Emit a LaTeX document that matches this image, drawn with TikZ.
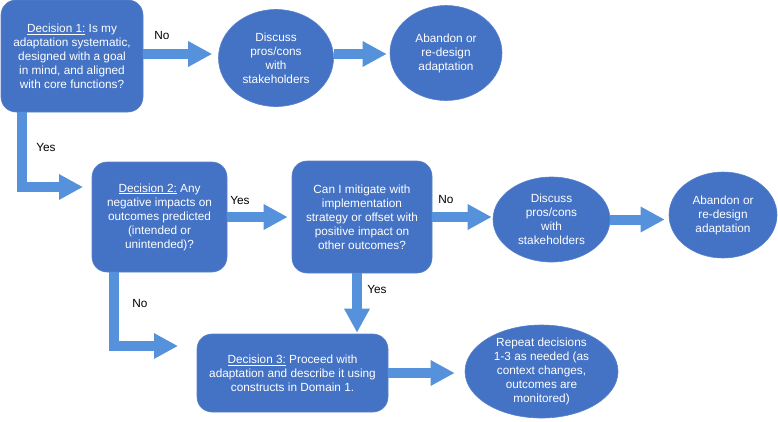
\documentclass[tikz,border=0pt]{standalone}
\usepackage{fontspec}
\setmainfont{Liberation Sans}
\usetikzlibrary{shapes.geometric,arrows.meta}
\definecolor{boxblue}{HTML}{4472C4}
\definecolor{edgeblue}{HTML}{5A82CA}
\definecolor{flowblue}{RGB}{85,146,219}
\tikzset{
  every node/.style={font=\fontsize{11.8}{14}\selectfont, align=center},
  decision/.style={rectangle, rounded corners=15pt, fill=boxblue, draw=edgeblue,
    line width=0.6pt, text=white, inner sep=0pt},
  outcome/.style={ellipse, fill=boxblue, draw=edgeblue, line width=0.6pt,
    text=white, inner sep=0pt},
  flow/.style={draw=flowblue, line width=10pt,
    -{Triangle[length=24pt,width=24pt]}},
  answer/.style={text=black, inner sep=0pt}
}
\begin{document}
\begin{tikzpicture}[x=1pt,y=-1pt]
      \useasboundingbox (0,0) rectangle (778,421);
      \path
        (72,56) node[decision, minimum width=142, minimum height=112] (d1)
          {\underline{Decision 1:} Is my\\adaptation systematic,\\designed with a goal\\in mind, and aligned\\with core functions?}
        (276,58) node[outcome, minimum width=115, minimum height=97] (e1)
          {Discuss\\pros/cons\\with\\stakeholders}
        (446,53) node[outcome, minimum width=112, minimum height=95] (e2)
          {Abandon or\\re-design\\adaptation}
        (159.5,217) node[decision, minimum width=135, minimum height=110] (d2)
          {\underline{Decision 2:} Any\\negative impacts on\\outcomes predicted\\(intended or\\unintended)?}
        (362,217) node[decision, minimum width=140, minimum height=112] (c)
          {Can I mitigate with\\implementation\\strategy or offset with\\positive impact on\\other outcomes?}
        (551.5,219.5) node[outcome, minimum width=117, minimum height=85] (e3)
          {Discuss\\pros/cons\\with\\stakeholders}
        (723,215) node[outcome, minimum width=108, minimum height=86] (e4)
          {Abandon or\\re-design\\adaptation}
        (292.5,373) node[decision, minimum width=191, minimum height=78] (d3)
          {\underline{Decision 3:} Proceed with\\adaptation and describe it using\\constructs in Domain 1.}
        (541.5,371.5) node[outcome, minimum width=153, minimum height=93, inner ysep=-2pt] (e5)
          {Repeat decisions\\1-3 as needed (as\\context changes,\\outcomes are\\monitored)};
      \coordinate (yes1) at (83,187);
      \coordinate (no2) at (178,346);
      \begin{scope}[flow]
        \draw[shorten >=6pt] ([yshift=2pt]d1.east) -- ([yshift=2pt]d1.east -| e1.west);
        \draw[shorten >=3pt] ([yshift=4pt]e1.east) -- ([yshift=4pt]e1.east -| e2.west);
        \draw ([xshift=21pt]d1.south west) |- (yes1);
        \draw[shorten >=4pt] (d2) -- (c);
        \draw[shorten >=1pt] (c) -- (c -| e3.west);
        \draw[shorten >=4pt] (e3) -- (e3 -| e4.west);
        \draw[shorten >=1pt] ([xshift=-5pt]c.south) -- ([xshift=-5pt]c.south |- d3.north);
        \draw ([xshift=22pt]d2.south west) |- (no2);
        \draw[shorten >=10pt] (d3) -- (d3 -| e5.west);
      \end{scope}
      \path
        (162,35) node[answer] (no1) {No}
        (46,147) node[answer] (yes1l) {Yes}
        (240,200) node[answer] (yes2) {Yes}
        (446,199) node[answer] (no3) {No}
        (377,289) node[answer] (yes3) {Yes}
        (140,303) node[answer] (no2l) {No};
    \end{tikzpicture}
\end{document}
